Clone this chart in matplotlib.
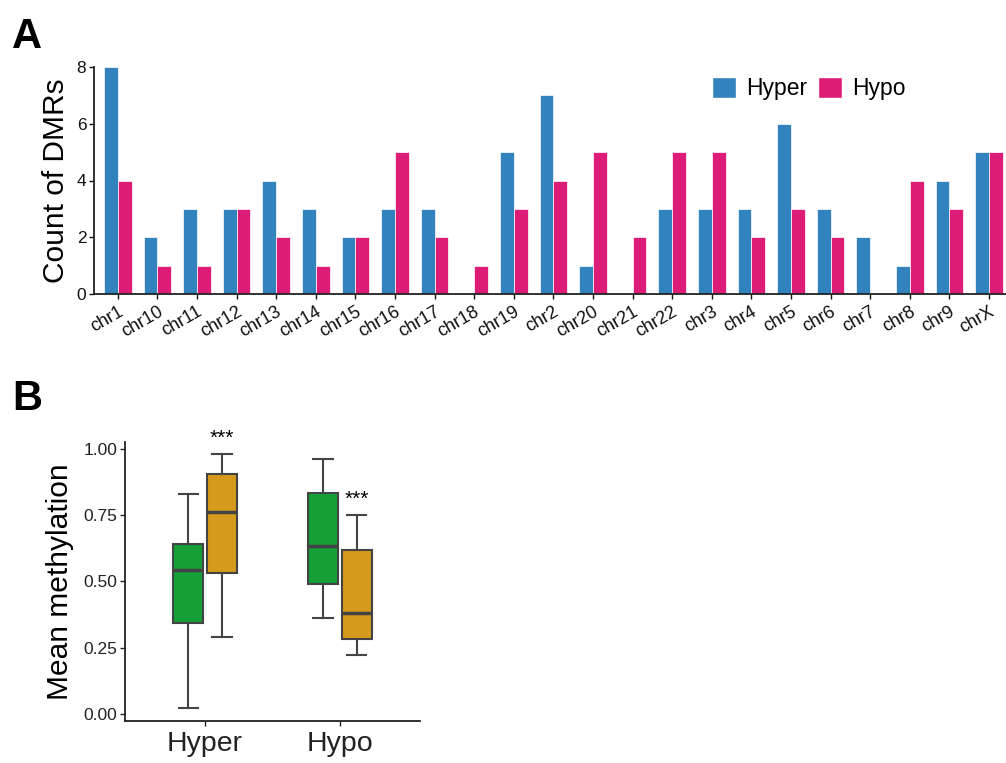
import matplotlib
matplotlib.use("Agg")
import matplotlib.pyplot as plt
from matplotlib.patches import Patch
import numpy as np

plt.rcParams['font.family'] = ['Liberation Sans', 'DejaVu Sans']

# Panel A data: DMR counts per chromosome
chroms = ["chr1", "chr10", "chr11", "chr12", "chr13", "chr14", "chr15", "chr16",
          "chr17", "chr18", "chr19", "chr2", "chr20", "chr21", "chr22", "chr3",
          "chr4", "chr5", "chr6", "chr7", "chr8", "chr9", "chrX"]
hyper_counts = [8, 2, 3, 3, 4, 3, 2, 3, 3, 0, 5, 7, 1, 0, 3, 3, 3, 6, 3, 2, 1, 4, 5]
hypo_counts = [4, 1, 1, 3, 2, 1, 2, 5, 2, 1, 3, 4, 5, 2, 5, 5, 2, 3, 2, 0, 4, 3, 5]

# Panel B data: box statistics (whislo, q1, med, q3, whishi)
groups = ["Hyper", "Hypo"]
green_stats = [(0.024, 0.342, 0.543, 0.642, 0.830),
               (0.362, 0.492, 0.635, 0.835, 0.963)]
orange_stats = [(0.291, 0.533, 0.761, 0.906, 0.981),
                (0.223, 0.284, 0.380, 0.619, 0.751)]
signif = ["***", "***"]

blue = "#3182bd"
pink = "#dd1c77"
green = "#14a036"
orange = "#d69a1d"
edge = "#444444"

fig = plt.figure(figsize=(10.06, 7.63), dpi=100)

# ---------- Panel A ----------
axA = fig.add_axes([94 / 1006, 1 - 294 / 763, 1 - 94 / 1006, (294 - 67) / 763])
x = np.arange(len(chroms))
w = 0.35
axA.bar(x - w / 2, hyper_counts, w, color=blue, edgecolor="white", linewidth=0.5, label="Hyper")
axA.bar(x + w / 2, hypo_counts, w, color=pink, edgecolor="white", linewidth=0.5, label="Hypo")
axA.set_xlim(-0.6, len(chroms) - 1 + 0.43)
axA.set_ylim(0, 8)
axA.set_yticks([0, 2, 4, 6, 8])
axA.set_xticks(x)
axA.set_xticklabels(chroms, rotation=30, ha="right", rotation_mode="anchor", fontsize=13)
axA.tick_params(axis="y", labelsize=12.5, length=3.5, width=1, colors="#111111", pad=2)
axA.tick_params(axis="x", length=3.5, width=1, colors="#111111", pad=3)
for s in ["top", "right"]:
    axA.spines[s].set_visible(False)
for s in ["left", "bottom"]:
    axA.spines[s].set_linewidth(1.3)
    axA.spines[s].set_color("#222222")
axA.set_ylabel("Count of DMRs", fontsize=21.5, labelpad=5)
handles = [Patch(facecolor=blue, edgecolor="white", label="Hyper"),
           Patch(facecolor=pink, edgecolor="white", label="Hypo")]
fig.legend(handles=handles, loc="upper left", bbox_to_anchor=(712 / 1006, 1 - 77 / 763),
           ncol=2, frameon=False, fontsize=16.5, handlelength=1.05, handleheight=1.05,
           handletextpad=0.45, columnspacing=0.45, borderpad=0, borderaxespad=0)
fig.text(12 / 1006, 1 - 48 / 763, "A", fontsize=30, fontweight="bold")

# ---------- Panel B ----------
axB = fig.add_axes([125 / 1006, 1 - 721 / 763, (420 - 125) / 1006, (721 - 442) / 763])
pos = np.arange(1, len(groups) + 1)
off = 0.125
bw = 0.22

def to_bxp(st):
    lo, q1, med, q3, hi = st
    return {"whislo": lo, "q1": q1, "med": med, "q3": q3, "whishi": hi, "fliers": []}

for stats, dx, col in [(green_stats, -off, green), (orange_stats, off, orange)]:
    axB.bxp([to_bxp(s) for s in stats], positions=pos + dx, widths=bw,
            patch_artist=True, showfliers=False, manage_ticks=False,
            boxprops=dict(facecolor=col, edgecolor=edge, linewidth=1.5),
            medianprops=dict(color=edge, linewidth=2.5),
            whiskerprops=dict(color=edge, linewidth=1.5),
            capprops=dict(color=edge, linewidth=1.5),
            capwidths=bw * 0.65)

for i, txt in enumerate(signif):
    axB.text(pos[i] + off, orange_stats[i][4] + 0.022, txt, ha="center", va="bottom", fontsize=15)

axB.set_xlim(0.407, 2.593)
axB.set_ylim(-0.0264, 1.026)
axB.set_xticks(pos)
axB.set_xticklabels(groups, fontsize=20.5)
axB.set_yticks([0, 0.25, 0.5, 0.75, 1.0])
axB.set_yticklabels(["0.00", "0.25", "0.50", "0.75", "1.00"])
axB.tick_params(axis="y", labelsize=12.5, length=3.5, width=1, colors="#222222", pad=2)
axB.tick_params(axis="x", length=3.5, width=1, colors="#222222")
for s in ["top", "right"]:
    axB.spines[s].set_visible(False)
for s in ["left", "bottom"]:
    axB.spines[s].set_linewidth(1.3)
    axB.spines[s].set_color("#222222")
axB.set_ylabel("Mean methylation", fontsize=21.5, labelpad=7)
fig.text(12 / 1006, 1 - 410 / 763, "B", fontsize=30, fontweight="bold")

fig.savefig("out.png", dpi=100)
